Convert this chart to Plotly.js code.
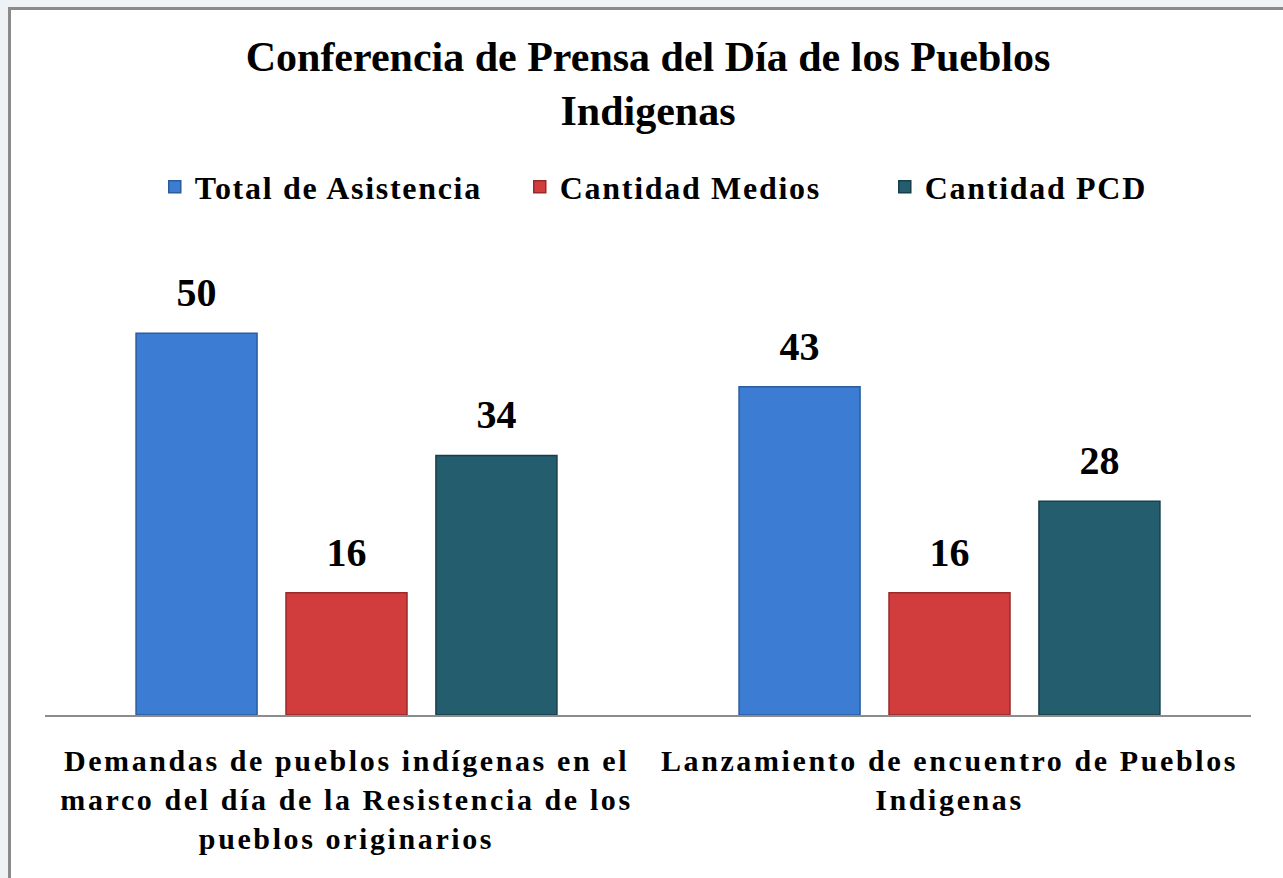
<!DOCTYPE html>
<html>
<head>
<meta charset="utf-8">
<script src="https://cdn.plot.ly/plotly-3.0.1.min.js"></script>
<style>
  html, body { margin: 0; padding: 0; background: #eef2f5; overflow: hidden; width: 1283px; height: 878px; }
  #frame { position: absolute; left: 8px; top: 7px; width: 1272px; height: 868px;
           border-left: 3px solid #8a8a8a; border-top: 3px solid #8a8a8a; background: #ffffff; }
  #chart { width: 1272px; height: 868px; }
  #chart .xtick text { letter-spacing: 2.6px; }
  #chart .legendtext { letter-spacing: 1.7px; }
</style>
</head>
<body>
<div id="frame"><div id="chart"></div></div>
<script>
const categories = [
  "Demandas de pueblos indígenas en el<br>marco del día de la Resistencia de los<br>pueblos originarios",
  "Lanzamiento de encuentro de Pueblos<br>Indigenas"
];
const seriesNames = ["Total de Asistencia", "Cantidad Medios", "Cantidad PCD"];
const totalAsistencia = [50, 43];
const cantidadMedios = [16, 16];
const cantidadPCD = [34, 28];
const chartTitle = "Conferencia de Prensa del Día de los Pueblos<br>Indigenas";

const fills = ["#3c7cd2", "#d13d3d", "#245e6e"];
const edges = ["#2b5c9c", "#9a2a2a", "#173f4b"];
const serif = "Liberation Serif, Times New Roman, serif";

const values = [totalAsistencia, cantidadMedios, cantidadPCD];
const barTraces = values.map((v, i) => ({
  type: "bar",
  name: seriesNames[i],
  x: categories,
  y: v,
  marker: { color: fills[i], line: { color: edges[i], width: 1.5 } },
  hoverinfo: "skip"
}));
const labelTraces = values.map((v, i) => ({
  type: "scatter",
  mode: "markers+text",
  name: seriesNames[i] + " labels",
  showlegend: false,
  x: categories,
  y: v,
  text: v.map(String),
  textposition: "top center",
  cliponaxis: false,
  marker: { size: 26, opacity: 0, color: "#ffffff" },
  textfont: { family: serif, size: 40, weight: "bold", color: "#000000" },
  hoverinfo: "skip"
}));

const layout = {
  width: 1272,
  height: 868,
  paper_bgcolor: "#ffffff",
  plot_bgcolor: "#ffffff",
  margin: { l: 34, r: 32, t: 247, b: 163 },
  barmode: "group",
  bargap: 0.254,
  bargroupgap: 0.193,
  scattermode: "group",
  scattergap: 0.254,
  showlegend: true,
  title: {
    text: chartTitle,
    font: { family: serif, size: 42, weight: "bold", color: "#000000" },
    x: 0.5, xref: "paper", xanchor: "center",
    y: 0.93, yref: "container", yanchor: "top"
  },
  legend: {
    orientation: "h",
    x: 0.545, xanchor: "center", xref: "paper",
    y: 0.796, yanchor: "middle", yref: "container",
    font: { family: serif, size: 32, weight: "bold", color: "#000000" },
    itemwidth: 30,
    entrywidth: 320,
    traceorder: "normal"
  },
  xaxis: {
    type: "category",
    range: [-0.5, 1.5],
    showline: true,
    linecolor: "#8c8c8c",
    linewidth: 2,
    ticks: "",
    showgrid: false,
    zeroline: false,
    ticklabelstandoff: 18,
    tickfont: { family: serif, size: 30, weight: "bold", color: "#000000" }
  },
  yaxis: {
    range: [0, 60],
    showticklabels: false,
    showgrid: false,
    zeroline: false,
    showline: false,
    ticks: ""
  }
};

Plotly.newPlot("chart", barTraces.concat(labelTraces), layout, { displayModeBar: false, staticPlot: true });
</script>
</body>
</html>
